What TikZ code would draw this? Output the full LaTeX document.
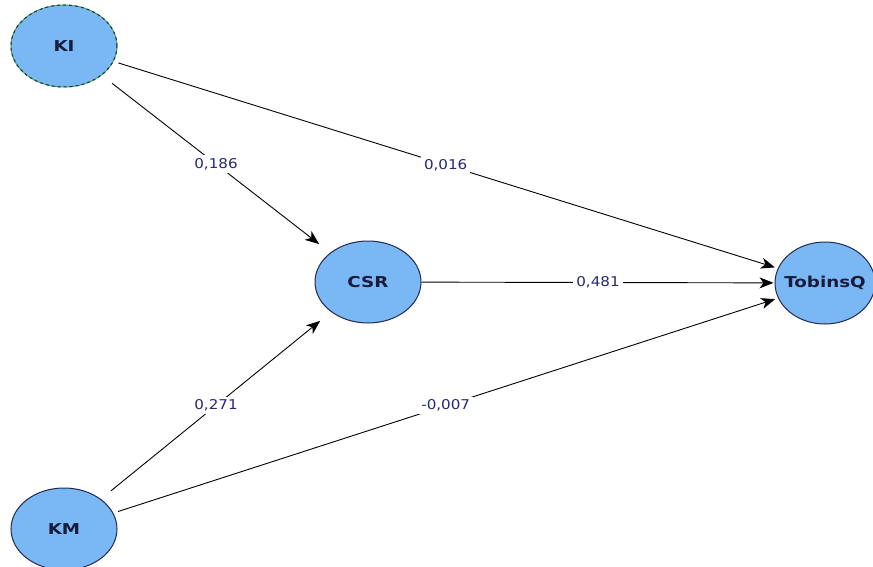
\documentclass[tikz,border=0pt]{standalone}
\usepackage{fontspec}
\setmainfont{DejaVu Sans}
\newfontfamily\lvfont[FakeStretch=1.12]{DejaVu Sans}
\newfontfamily\lvnamefont[FakeStretch=1.22]{DejaVu Sans Bold}
\usetikzlibrary{arrows.meta,shapes.geometric}
\definecolor{lvfill}{RGB}{122,184,245}
\definecolor{lvline}{RGB}{34,42,78}
\definecolor{lvname}{RGB}{24,28,60}
\definecolor{coeftext}{RGB}{38,40,118}
\definecolor{lvgreen}{RGB}{70,170,95}
\tikzset{
  lv/.style={ellipse, fill=lvfill, draw=lvline, line width=1pt,
    minimum width=106pt, minimum height=82pt, inner ysep=0pt, inner xsep=-16pt,
    font=\lvnamefont\fontsize{15}{15}\selectfont, text=lvname},
  lvexo/.style={lv, draw=lvgreen,
    postaction={draw=lvline, line width=1pt, dash pattern=on 3pt off 3pt}},
  path/.style={draw=black, line width=0.9pt,
    -{Stealth[length=14pt,width=11pt,inset=4pt]}},
  coef/.style={fill=white, inner sep=3pt, text=coeftext,
    font=\lvfont\fontsize{13.5}{13.5}\selectfont}
}
\begin{document}
\begin{tikzpicture}[x=1pt,y=-1pt]
  \useasboundingbox (0,0) rectangle (873,567);
  % latent variables
  \node[lvexo] (KI) at (64,46) {KI};
  \node[lv] (KM) at (64,529) {KM};
  \node[lv] (CSR) at (368,282) {CSR};
  \node[lv, minimum width=100pt] (TQ) at (825,283) {TobinsQ};
  % structural paths with coefficients
  \draw[path, shorten <=13pt, shorten >=14pt] (KI) -- node[coef] {0,186} (CSR);
  \draw[path, shorten <=5pt, shorten >=3pt] (KI) -- node[coef] {0,016} (TQ);
  \draw[path, shorten >=1pt] (CSR) -- node[coef] {0,481} (TQ);
  \draw[path, shorten <=13pt, shorten >=14pt] (KM) -- node[coef] {0,271} (CSR);
  \draw[path, shorten <=5pt, shorten >=3pt] (KM) -- node[coef] {-0,007} (TQ);
\end{tikzpicture}
\end{document}
